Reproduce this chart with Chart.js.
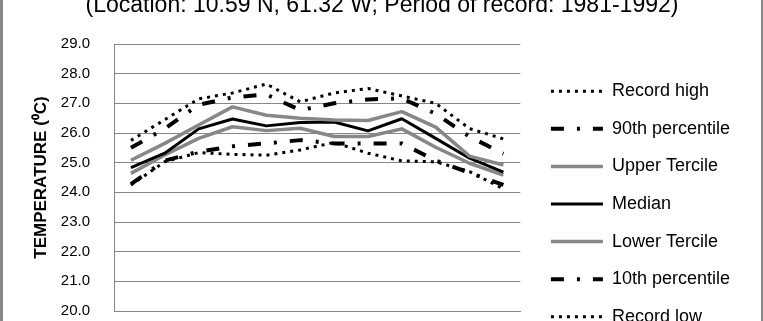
<!DOCTYPE html>
<html>
<head>
<meta charset="utf-8">
<script src="https://cdn.jsdelivr.net/npm/chart.js@4/dist/chart.umd.min.js"></script>
<style>
  html, body { margin: 0; padding: 0; background: #fff; overflow: hidden; }
  #frame {
    position: absolute; left: 0; top: -20px;
    width: 758px; height: 448px;
    border-left: 3px solid #878787;
    border-right: 2px solid #878787;
  }
  #frame canvas { display: block; }
</style>
</head>
<body>
<div id="frame"><canvas id="chart" width="758" height="448"></canvas></div>
<script>
// chart data
const months = ['Jan', 'Feb', 'Mar', 'Apr', 'May', 'Jun', 'Jul', 'Aug', 'Sep', 'Oct', 'Nov', 'Dec'];
const recordHigh   = [25.75, 26.45, 27.15, 27.35, 27.65, 27.05, 27.35, 27.50, 27.25, 27.00, 26.15, 25.80];
const pct90        = [25.50, 26.15, 26.95, 27.20, 27.30, 26.77, 27.00, 27.13, 27.17, 26.65, 25.88, 25.30];
const upperTercile = [25.08, 25.65, 26.27, 26.88, 26.60, 26.50, 26.44, 26.42, 26.72, 26.20, 25.22, 24.92];
const median       = [24.83, 25.32, 26.14, 26.47, 26.24, 26.35, 26.37, 26.07, 26.48, 25.82, 25.15, 24.68];
const lowerTercile = [24.64, 25.26, 25.82, 26.21, 26.08, 26.16, 25.88, 25.88, 26.14, 25.52, 24.98, 24.58];
const pct10        = [24.28, 25.07, 25.37, 25.55, 25.65, 25.76, 25.65, 25.65, 25.65, 25.07, 24.66, 24.25];
const recordLow    = [24.25, 25.03, 25.34, 25.28, 25.25, 25.43, 25.68, 25.32, 25.06, 25.03, 24.70, 24.12];

const seriesNames = ['Record high', '90th percentile', 'Upper Tercile', 'Median', 'Lower Tercile', '10th percentile', 'Record low'];
const yMin = 20;
const yMax = 29;
const yStep = 1;

const titleText = '(Location: 10.59 N, 61.32 W; Period of record: 1981-1992)';
const yTitle = 'TEMPERATURE (\u2070C)';

const FONT = "'Liberation Sans', Arial, sans-serif";
const GRID = '#878787';
const GREY = '#878787';

const dotted = [3, 5];
const dashDot = [13, 13, 3, 13];

function line(label, data, color, width, dash) {
  return {
    label: label,
    data: data,
    borderColor: color,
    backgroundColor: color,
    borderWidth: width,
    borderDash: dash,
    borderCapStyle: 'butt',
    borderJoinStyle: 'round',
    pointRadius: 0,
    fill: false,
    tension: 0
  };
}

// legend samples take the dash pattern of their own line
function legendLabels(chart) {
  const items = Chart.defaults.plugins.legend.labels.generateLabels(chart);
  items.forEach(item => {
    const ds = chart.data.datasets[item.datasetIndex];
    item.lineDash = ds.borderDash;
    item.lineCap = ds.borderCapStyle;
    item.lineWidth = ds.borderWidth;
    item.strokeStyle = ds.borderColor;
  });
  return items;
}

const ctx = document.getElementById('chart').getContext('2d');

new Chart(ctx, {
  type: 'line',
  data: {
    labels: months,
    datasets: [
      line(seriesNames[0], recordHigh, '#000', 3, dotted),
      line(seriesNames[1], pct90, '#000', 4, dashDot),
      line(seriesNames[2], upperTercile, GREY, 3.5, []),
      line(seriesNames[3], median, '#000', 3, []),
      line(seriesNames[4], lowerTercile, GREY, 3.5, []),
      line(seriesNames[5], pct10, '#000', 4, dashDot),
      line(seriesNames[6], recordLow, '#000', 3, dotted)
    ]
  },
  options: {
    responsive: false,
    animation: false,
    layout: { padding: { left: 21, right: 21, top: 0, bottom: 0 } },
    plugins: {
      title: {
        display: true,
        text: titleText,
        color: '#000',
        font: { family: FONT, size: 23, weight: 'normal' },
        padding: { top: 11.8, bottom: 24.6 }
      },
      legend: {
        position: 'right',
        align: 'center',
        maxWidth: 260,
        labels: {
          usePointStyle: true,
          pointStyle: 'line',
          pointStyleWidth: 52,
          padding: 19.6,
          color: '#000',
          font: { family: FONT, size: 18 },
          generateLabels: legendLabels
        }
      },
      tooltip: { enabled: false }
    },
    scales: {
      x: {
        offset: true,
        grid: { display: false, drawTicks: false },
        border: { display: true, color: GRID },
        ticks: { display: false },
        afterFit: s => { s.height = 117; }
      },
      y: {
        min: yMin,
        max: yMax,
        grid: { color: GRID, lineWidth: 1, drawTicks: false },
        border: { display: true, color: GRID },
        ticks: {
          stepSize: yStep,
          padding: 24,
          color: '#000',
          font: { family: FONT, size: 15 },
          callback: v => v.toFixed(1)
        },
        title: {
          display: true,
          text: yTitle,
          color: '#000',
          font: { family: FONT, size: 17, weight: 'bold' },
          padding: { top: 6.8, bottom: 0 }
        },
        afterFit: s => { s.width = 90; }
      },
      gap: {
        type: 'linear',
        position: 'right',
        grid: { display: false },
        border: { display: false },
        ticks: { display: false },
        afterFit: s => { s.width = 11; }
      }
    }
  }
});
</script>
</body>
</html>
